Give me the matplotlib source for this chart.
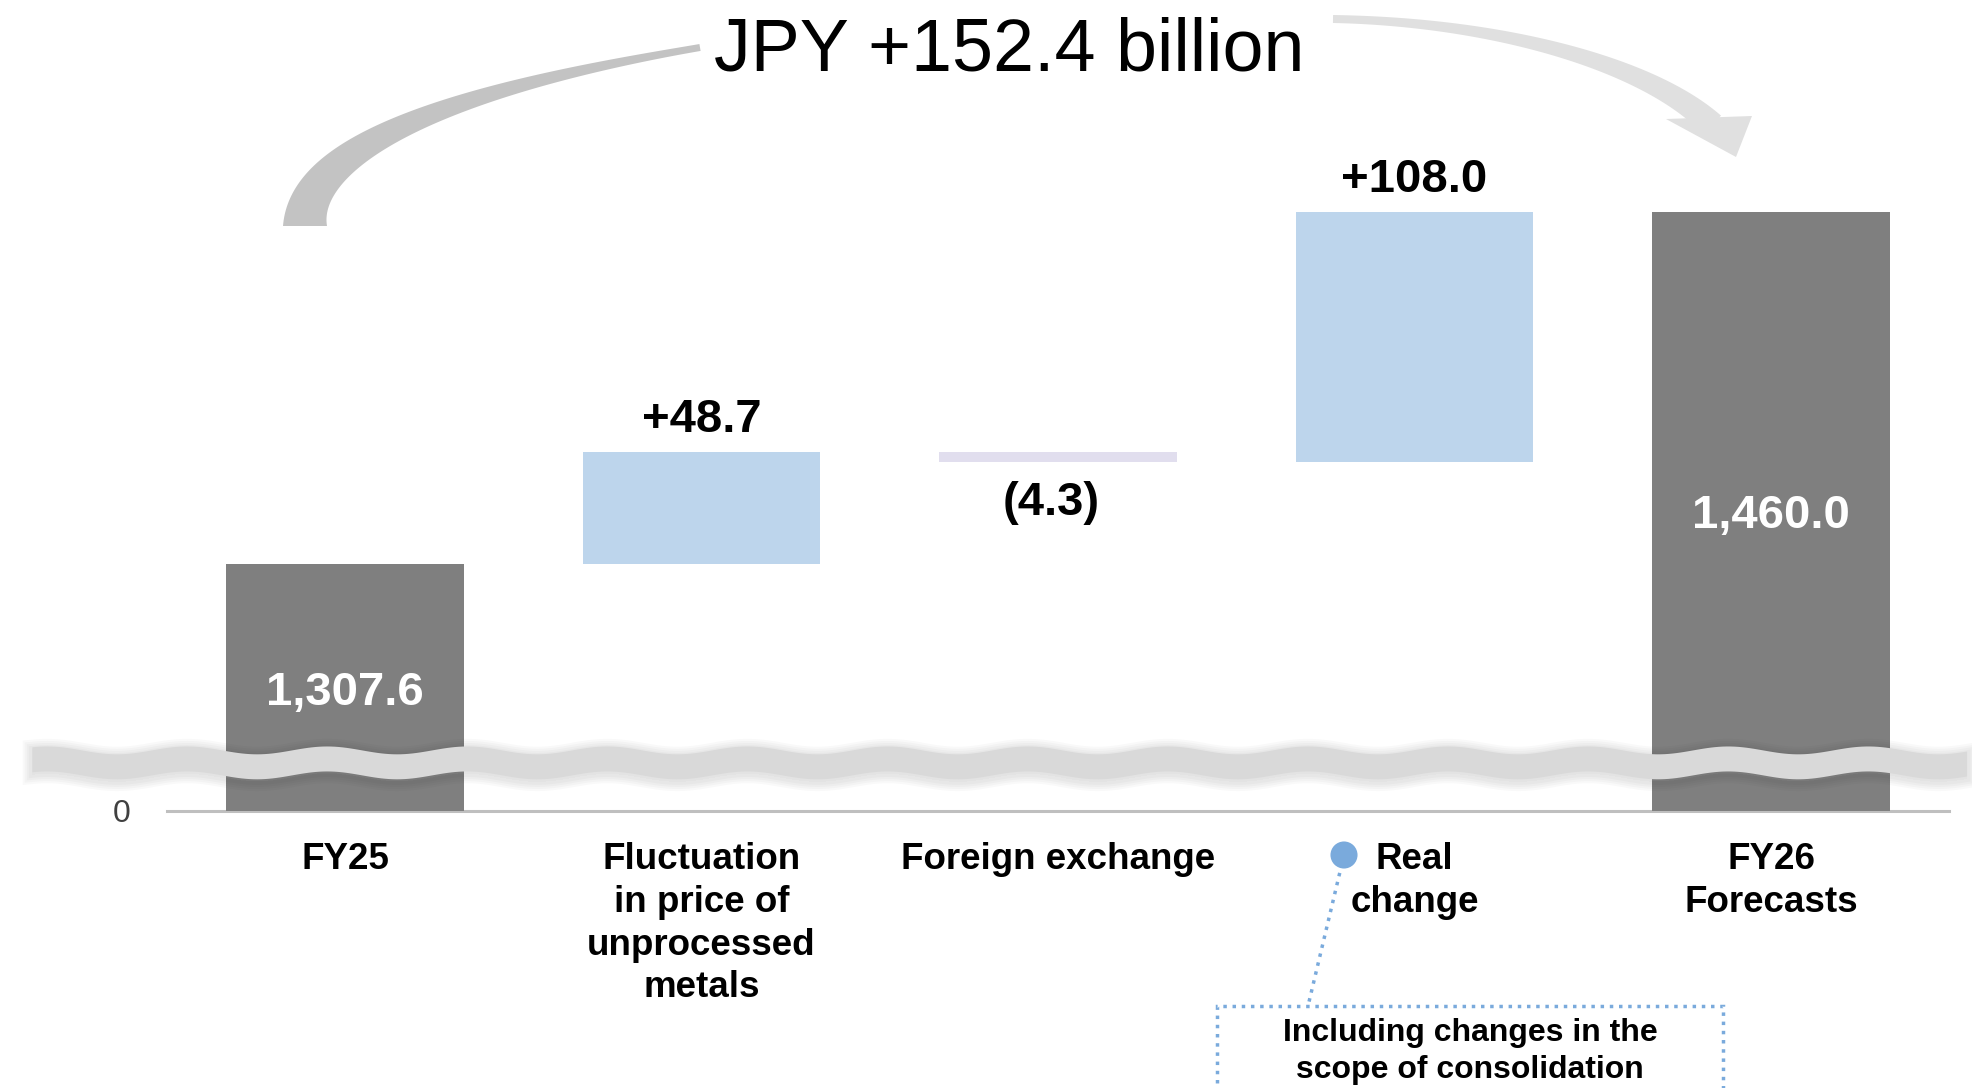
import numpy as np
import matplotlib
matplotlib.use("Agg")
import matplotlib.pyplot as plt
import matplotlib.patheffects as pe
from matplotlib.patches import Polygon, Rectangle

plt.rcParams["font.family"] = ["Liberation Sans", "DejaVu Sans"]

# ── Data (JPY billion) ────────────────────────────────────────────────────────
categories = [
    "FY25",
    "Fluctuation\nin price of\nunprocessed\nmetals",
    "Foreign exchange",
    "Real\nchange",
    "FY26\nForecasts",
]
start_value = 1307.6
changes = [48.7, -4.3, 108.0]
end_value = 1460.0
note_text = "Including changes in the\nscope of consolidation"

# ── Layout (pixels of the 1972x1088 canvas) ──────────────────────────────────
W, H = 1972, 1088
X0, DX = 345, 356.5      # pixel x of first bar centre, pixels per category
Y0, DY = 811, 2.313      # pixel y of zero line, pixels per JPY billion
CUT = 1201               # amount hidden by the broken axis

DARK = "#7f7f7f"
BLUE = "#bdd5ec"
LAVENDER = "#e1deee"
NOTE = "#7aaadc"


def px(x, y):
    """pixel coords -> data coords"""
    return (np.asarray(x) - X0) / DX, (Y0 - np.asarray(y)) / DY


def tapered(p0, p1, p2, p3, w0, w1, power=1.3, n=150):
    """polygon of a cubic bezier band whose width goes from w0 to w1 (pixels)"""
    p0, p1, p2, p3 = map(np.asarray, (p0, p1, p2, p3))
    t = np.linspace(0, 1, n)[:, None]
    pts = (1 - t) ** 3 * p0 + 3 * (1 - t) ** 2 * t * p1 + 3 * (1 - t) * t ** 2 * p2 + t ** 3 * p3
    d = 3 * (1 - t) ** 2 * (p1 - p0) + 6 * (1 - t) * t * (p2 - p1) + 3 * t ** 2 * (p3 - p2)
    d = d / np.linalg.norm(d, axis=1)[:, None]
    nrm = np.column_stack([-d[:, 1], d[:, 0]])
    w = (w0 + (w1 - w0) * t ** power) / 2
    poly = np.vstack([pts + nrm * w, (pts - nrm * w)[::-1]])
    return np.column_stack(px(poly[:, 0], poly[:, 1]))


fig = plt.figure(figsize=(W / 100, H / 100), dpi=100)
fig.patch.set_facecolor("white")
ax = fig.add_axes([0, 0, 1, 1])
ax.set_xlim(-X0 / DX, (W - X0) / DX)
ax.set_ylim(-(H - Y0) / DY, Y0 / DY)
ax.axis("off")

# ── Bars ─────────────────────────────────────────────────────────────────────
xpos = np.arange(len(categories))
bar_w = 0.667

ax.plot([-0.5, len(categories) - 0.5], [0, 0], color="#bfbfbf", lw=2.2, zorder=1)

for x, v in ((xpos[0], start_value), (xpos[-1], end_value)):
    ax.bar(x, v - CUT, width=bar_w, color=DARK, zorder=2)
    ax.text(x, (v - CUT) / 2, f"{v:,.1f}", ha="center", va="center_baseline",
            color="white", fontsize=34, fontweight="bold", zorder=5)

level = start_value
for x, c in zip(xpos[1:-1], changes):
    lo = min(level, level + c) - CUT
    ax.bar(x, abs(c), bottom=lo, width=bar_w,
           color=BLUE if c > 0 else LAVENDER, zorder=2)
    if c > 0:
        ax.text(x, lo + c + 8.5, f"+{c:.1f}", ha="center", va="baseline",
                fontsize=34, fontweight="bold", zorder=5)
    else:
        ax.text(x - 0.02, lo - 23, f"({abs(c):.1f})", ha="center", va="baseline",
                fontsize=34, fontweight="bold", zorder=5)
    level += c

# ── Axis break (wavy band with soft shadow) ──────────────────────────────────
bx = np.linspace(-0.877, 4.55, 500)
mid = 20.8 + 1.7 * np.cos(2 * np.pi * (bx + 0.443) / 0.393)
band = np.vstack([np.column_stack([bx, mid + 5.4]),
                  np.column_stack([bx[::-1], (mid - 5.4)[::-1]])])
shadow = [pe.Stroke(linewidth=lw, foreground="black", alpha=0.022, offset=(0, -1.5))
          for lw in (14, 11, 8, 5)]
ax.add_patch(Polygon(band, closed=True, facecolor="#d9d9d9", edgecolor="none",
                     zorder=3, path_effects=shadow + [pe.Normal()]))

ax.text(*px(122, 814), "0", ha="center", va="center", fontsize=23,
        color="#404040")

# ── Category labels ──────────────────────────────────────────────────────────
for x, lab in zip(xpos, categories):
    ax.text(x, px(0, 842)[1], lab, ha="center", va="top", fontsize=26.5,
            fontweight="bold", linespacing=1.29, multialignment="center")

# ── Note callout ─────────────────────────────────────────────────────────────
dot = px(1344, 855)
box_l, box_t = px(1217, 1006)
box_r, _ = px(1723, 1006)
ax.plot([dot[0], px(1308, 0)[0]], [dot[1], box_t], color=NOTE, lw=2.5,
        ls=":", zorder=4)
ax.scatter([dot[0]], [dot[1]], s=380, color=NOTE, zorder=5, edgecolors="none")
ax.add_patch(Rectangle((box_l, box_t - 80), box_r - box_l, 80, fill=False,
                       edgecolor=NOTE, lw=2.5, ls=":", zorder=4))
ax.text((box_l + box_r) / 2, px(0, 1018)[1], note_text, ha="center", va="top",
        fontsize=23, fontweight="bold", linespacing=1.3)

# ── Total change headline with curved arrows ─────────────────────────────────
ax.text(*px(1009, 70), f"JPY {end_value - start_value:+.1f} billion",
        ha="center", va="baseline", fontsize=53)

ax.add_patch(Polygon(tapered((700, 47.5), (580, 68), (305, 120), (305, 226),
                             7, 44, power=1.8),
                     closed=True, facecolor="#c3c3c3", edgecolor="none", zorder=2))
ax.add_patch(Polygon(tapered((1333, 19), (1500, 22), (1650, 65), (1712, 125),
                             8, 26, power=1.5),
                     closed=True, facecolor="#e0e0e0", edgecolor="none", zorder=2))
head = np.column_stack(px([1666, 1736, 1752], [119, 157, 116]))
ax.add_patch(Polygon(head, closed=True, facecolor="#e0e0e0", edgecolor="none",
                     zorder=2))

fig.savefig("out.png", dpi=100)
